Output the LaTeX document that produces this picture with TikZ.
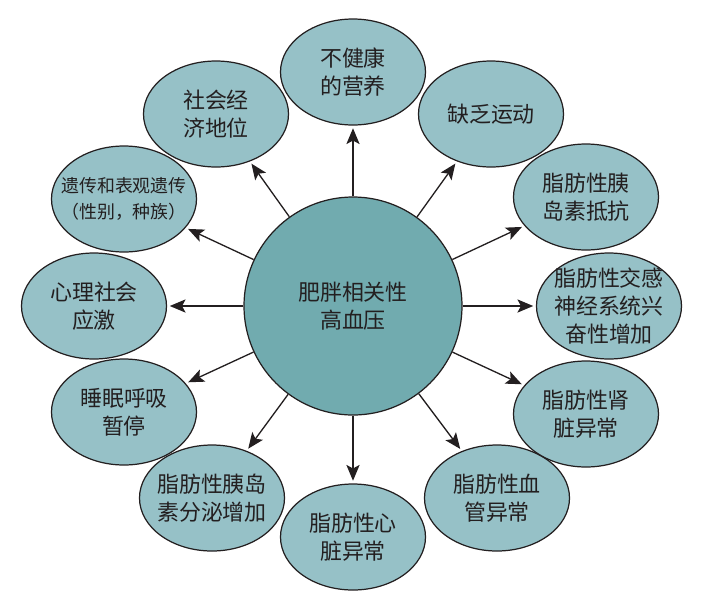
\documentclass[tikz,border=0pt]{standalone}
\usepackage{fontspec}
\setmainfont{Noto Sans CJK SC}
\usetikzlibrary{shapes.geometric,arrows.meta}
\definecolor{bubblefill}{HTML}{96C1C7}
\definecolor{corefill}{HTML}{71ABAF}
\definecolor{inkgray}{HTML}{231F20}
\tikzset{
  bubble/.style={ellipse,draw=inkgray,line width=0.7pt,fill=bubblefill,
    minimum width=2.9cm,minimum height=2.12cm,inner sep=0pt},
  btext/.style={text=inkgray,align=center,font=\fontsize{12.5}{16}\selectfont},
  bsmall/.style={text=inkgray,align=center,font=\fontsize{10.2}{14.5}\selectfont},
  link/.style={draw=inkgray,line width=0.75pt,
    -{Stealth[length=9pt,width=7.5pt,inset=2pt]},shorten >=1.5pt}
}
\begin{document}
\begin{tikzpicture}
    \useasboundingbox (0,0) rectangle (14.34,-11.94);

    %%%% Core %%%%%%%%%%%%%%%%%%%%%%%%%%%%%%%%%%%%%%%%%%%%%%%%%%%%%%%%%%%%
    \node[circle,draw=inkgray,line width=0.7pt,fill=corefill,
          minimum size=4.36cm,inner sep=0pt,btext] (core) at (7.06,-6.12) {肥胖相关性\\高血压};

    %%%% Bubbles %%%%%%%%%%%%%%%%%%%%%%%%%%%%%%%%%%%%%%%%%%%%%%%%%%%%%%%%%
    \node[bubble,label={[btext]center:{不健康\\的营养}}]             (diet)   at (7.06,-1.44)  {};
    \node[bubble,label={[btext]center:{社会经\\济地位}}]             (ses)    at (4.32,-2.28)  {};
    \node[bubble,label={[bsmall]center:{遗传和表观遗传\\（性别，种族）}}] (gene) at (2.48,-3.98)  {};
    \node[bubble,label={[btext]center:{心理社会\\应激}}]             (psy)    at (1.88,-6.12)  {};
    \node[bubble,label={[btext]center:{睡眠呼吸\\暂停}}]             (sleep)  at (2.48,-8.24)  {};
    \node[bubble,label={[btext]center:{脂肪性胰岛\\素分泌增加}}]     (insec)  at (4.24,-9.96)  {};
    \node[bubble,label={[btext]center:{脂肪性心\\脏异常}}]           (heart)  at (7.06,-10.74) {};
    \node[bubble,label={[btext]center:{脂肪性血\\管异常}}]           (vasc)   at (9.94,-9.96)  {};
    \node[bubble,label={[btext]center:{脂肪性肾\\脏异常}}]           (kidney) at (11.72,-8.28) {};
    \node[bubble,label={[btext]center:{脂肪性交感\\神经系统兴\\奋性增加}}] (symp) at (12.18,-6.12) {};
    \node[bubble,label={[btext]center:{脂肪性胰\\岛素抵抗}}]         (insres) at (11.72,-3.94) {};
    \node[bubble,label={[btext]center:{缺乏运动}}]                   (exer)   at (9.82,-2.28)  {};

    %%%% Links %%%%%%%%%%%%%%%%%%%%%%%%%%%%%%%%%%%%%%%%%%%%%%%%%%%%%%%%%%%
    \foreach \b in {diet,ses,gene,psy,sleep,insec,heart,vasc,kidney,symp,insres,exer}
      \draw[link] (core) -- (\b);
\end{tikzpicture}
\end{document}
